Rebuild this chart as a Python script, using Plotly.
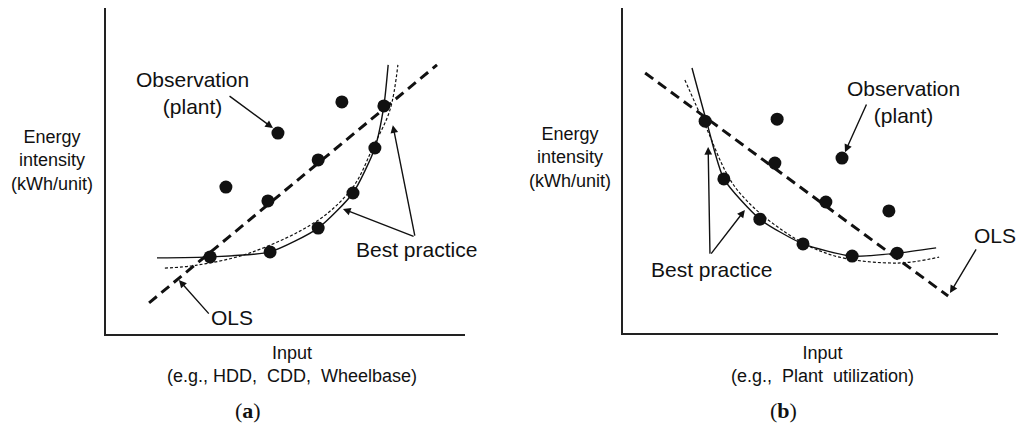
import plotly.graph_objects as go

# ---------------- Panel (a) data (arbitrary 0-100 units) ----------------
a_obs_x = [33.4, 47.9, 65.7, 59.1, 45.1]
a_obs_y = [44.4, 60.7, 70.1, 52.6, 40.2]
a_bp_x = [29.0, 45.7, 59.1, 68.8, 74.9, 77.4]
a_bp_y = [23.3, 24.8, 32.0, 42.6, 56.2, 68.9]
a_solid_x = [14.2, 29.0, 45.7, 59.1, 68.8, 74.9, 77.4, 78.6]
a_solid_y = [23.0, 23.3, 24.8, 32.0, 42.6, 56.2, 68.9, 81.3]
a_dot_x = [16.4, 25.3, 40.1, 59.1, 68.8, 74.4, 79.1, 81.3]
a_dot_y = [19.9, 20.8, 24.5, 34.4, 44.4, 56.5, 67.7, 81.3]
a_ols_x = [12.0, 92.2]
a_ols_y = [9.4, 81.3]

# ---------------- Panel (b) data ----------------
b_obs_x = [41.1, 40.5, 58.4, 54.1, 70.9]
b_obs_y = [64.8, 51.5, 53.0, 39.7, 37.0]
b_bp_x = [21.9, 26.9, 36.5, 48.0, 61.1, 73.1]
b_bp_y = [64.2, 46.7, 34.5, 27.0, 23.3, 24.2]
b_solid_x = [18.4, 22.4, 26.9, 36.5, 48.0, 61.1, 73.1, 83.5]
b_solid_y = [80.3, 63.6, 46.7, 34.5, 27.0, 23.3, 24.2, 25.8]
b_dot_x = [16.5, 21.9, 29.9, 42.4, 55.7, 73.3, 84.3]
b_dot_y = [76.7, 63.0, 44.2, 31.2, 23.6, 21.2, 23.0]
b_ols_x = [5.9, 86.7]
b_ols_y = [78.8, 11.2]

BLACK = "#111111"
FONT = "Liberation Sans, Arial, sans-serif"

fig = go.Figure()

def add_panel(xa, ya, ols_x, ols_y, solid_x, solid_y, dot_x, dot_y, obs_x, obs_y, bp_x, bp_y):
    fig.add_trace(go.Scatter(x=ols_x, y=ols_y, mode="lines", xaxis=xa, yaxis=ya,
                             line=dict(color=BLACK, width=3, dash="10px,6px"), showlegend=False))
    fig.add_trace(go.Scatter(x=dot_x, y=dot_y, mode="lines", xaxis=xa, yaxis=ya,
                             line=dict(color=BLACK, width=1.2, dash="3px,2px", shape="spline", smoothing=1.0),
                             showlegend=False))
    fig.add_trace(go.Scatter(x=solid_x, y=solid_y, mode="lines", xaxis=xa, yaxis=ya,
                             line=dict(color=BLACK, width=1.4, shape="spline", smoothing=0.6),
                             showlegend=False))
    fig.add_trace(go.Scatter(x=obs_x + bp_x, y=obs_y + bp_y, mode="markers", xaxis=xa, yaxis=ya,
                             marker=dict(color=BLACK, size=13), showlegend=False))

add_panel("x", "y", a_ols_x, a_ols_y, a_solid_x, a_solid_y, a_dot_x, a_dot_y,
          a_obs_x, a_obs_y, a_bp_x, a_bp_y)
add_panel("x2", "y2", b_ols_x, b_ols_y, b_solid_x, b_solid_y, b_dot_x, b_dot_y,
          b_obs_x, b_obs_y, b_bp_x, b_bp_y)

# The page body has an 8px default margin; compensate so the picture lands where intended.
OFF = 8
W, H = 1024 - OFF, 433 - OFF

def px(xp):
    return min(1.0, max(0.0, (xp - OFF) / W))

def py(yp):
    return min(1.0, max(0.0, 1 - (yp - OFF) / H))

# y ranges are extended so the data keep their intended positions
# while the axis top is clamped at the page edge.
top_clip_a = (334 - OFF) / (334 - 3) * 100
top_clip_b = (333 - OFF) / (333 - 3) * 100

ax_common = dict(showgrid=False, zeroline=False, showticklabels=False,
                 ticks="", showline=True, linecolor="#222222", linewidth=2, fixedrange=True)

fig.update_layout(
    width=W, height=H, margin=dict(l=0, r=0, t=0, b=0),
    paper_bgcolor="white", plot_bgcolor="white",
    xaxis=dict(domain=[px(106), px(465)], anchor="y", range=[0, 100], **ax_common),
    yaxis=dict(domain=[py(334), py(3)], anchor="x", range=[0, top_clip_a], **ax_common),
    xaxis2=dict(domain=[px(623), px(998)], anchor="y2", range=[0, 100], **ax_common),
    yaxis2=dict(domain=[py(333), py(3)], anchor="x2", range=[0, top_clip_b], **ax_common),
    font=dict(family=FONT, color=BLACK),
)

ann = []

def label(xr, yr, x, y, text, size=21):
    ann.append(dict(xref=xr, yref=yr, x=x, y=y, text=text, showarrow=False,
                    font=dict(size=size, family=FONT, color=BLACK), xanchor="center", yanchor="middle"))

def arrow(xr, yr, x, y, ax, ay):
    ann.append(dict(xref=xr, yref=yr, axref=xr, ayref=yr, x=x, y=y, ax=ax, ay=ay, text="",
                    showarrow=True, arrowhead=2, arrowsize=1.1, arrowwidth=1.4, arrowcolor=BLACK))

# panel (a)
label("x", "y", 24.2, 72.8, "Observation<br>(plant)")
arrow("x", "y", 46.5, 62.2, 34.0, 72.2)
label("x", "y", 86.4, 25.4, "Best practice")
arrow("x", "y", 66.0, 37.8, 86.1, 29.3)
arrow("x", "y", 79.9, 63.1, 86.1, 29.3)
label("x", "y", 35.1, 5.1, "OLS")
arrow("x", "y", 20.3, 16.3, 29.0, 5.7)

# panel (b)
label("x2", "y2", 74.7, 70.0, "Observation<br>(plant)")
arrow("x2", "y2", 59.2, 54.8, 65.1, 69.7)
label("x2", "y2", 23.5, 19.1, "Best practice")
arrow("x2", "y2", 22.7, 56.4, 23.2, 23.6)
arrow("x2", "y2", 32.5, 37.3, 23.2, 23.6)
label("x2", "y2", 99.2, 29.4, "OLS")
arrow("x2", "y2", 87.2, 12.1, 94.4, 25.8)

# axis titles
label("paper", "paper", px(52), py(160), "Energy<br>intensity<br>(kWh/unit)", size=18)
label("paper", "paper", px(570), py(157), "Energy<br>intensity<br>(kWh/unit)", size=18)
label("paper", "paper", px(292), py(364), "Input<br>(e.g., HDD,  CDD,  Wheelbase)", size=18)
label("paper", "paper", px(822), py(364), "Input<br>(e.g.,  Plant  utilization)", size=18)

for xc, t in [(248, "(<b>a</b>)"), (783, "(<b>b</b>)")]:
    ann.append(dict(xref="paper", yref="paper", x=px(xc), y=py(410), text=t, showarrow=False,
                    font=dict(size=22, family="Liberation Serif, Times New Roman, serif", color=BLACK),
                    xanchor="center", yanchor="middle"))

fig.update_layout(annotations=ann)
fig.write_html("out.html")
